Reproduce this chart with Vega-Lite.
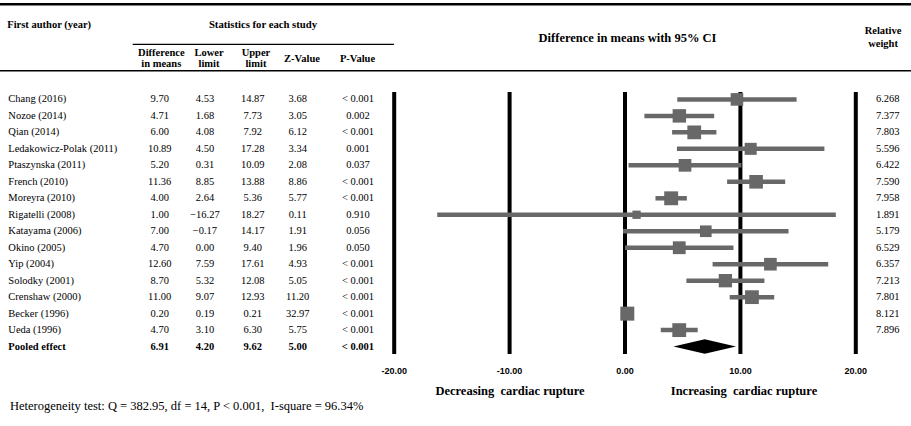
{
  "$schema": "https://vega.github.io/schema/vega-lite/v6.json",
  "width": 911,
  "height": 426,
  "autosize": {"type": "none"},
  "padding": 0,
  "background": "white",
  "config": {
    "view": {"stroke": null},
    "axis": {"disable": true},
    "legend": {"disable": true},
    "text": {"font": "Liberation Serif", "fontSize": 10.5, "color": "black", "baseline": "middle"}
  },
  "datasets": {
    "studies": [
      {"row": 1, "study": "Chang (2016)", "diff": 9.70, "lower": 4.53, "upper": 14.87, "z": 3.68, "p": "< 0.001", "weight": 6.268, "pooled": false},
      {"row": 2, "study": "Nozoe (2014)", "diff": 4.71, "lower": 1.68, "upper": 7.73, "z": 3.05, "p": "0.002", "weight": 7.377, "pooled": false},
      {"row": 3, "study": "Qian (2014)", "diff": 6.00, "lower": 4.08, "upper": 7.92, "z": 6.12, "p": "< 0.001", "weight": 7.803, "pooled": false},
      {"row": 4, "study": "Ledakowicz-Polak (2011)", "diff": 10.89, "lower": 4.50, "upper": 17.28, "z": 3.34, "p": "0.001", "weight": 5.596, "pooled": false},
      {"row": 5, "study": "Ptaszynska (2011)", "diff": 5.20, "lower": 0.31, "upper": 10.09, "z": 2.08, "p": "0.037", "weight": 6.422, "pooled": false},
      {"row": 6, "study": "French (2010)", "diff": 11.36, "lower": 8.85, "upper": 13.88, "z": 8.86, "p": "< 0.001", "weight": 7.590, "pooled": false},
      {"row": 7, "study": "Moreyra (2010)", "diff": 4.00, "lower": 2.64, "upper": 5.36, "z": 5.77, "p": "< 0.001", "weight": 7.958, "pooled": false},
      {"row": 8, "study": "Rigatelli (2008)", "diff": 1.00, "lower": -16.27, "upper": 18.27, "z": 0.11, "p": "0.910", "weight": 1.891, "pooled": false},
      {"row": 9, "study": "Katayama (2006)", "diff": 7.00, "lower": -0.17, "upper": 14.17, "z": 1.91, "p": "0.056", "weight": 5.179, "pooled": false},
      {"row": 10, "study": "Okino (2005)", "diff": 4.70, "lower": 0.00, "upper": 9.40, "z": 1.96, "p": "0.050", "weight": 6.529, "pooled": false},
      {"row": 11, "study": "Yip (2004)", "diff": 12.60, "lower": 7.59, "upper": 17.61, "z": 4.93, "p": "< 0.001", "weight": 6.357, "pooled": false},
      {"row": 12, "study": "Solodky (2001)", "diff": 8.70, "lower": 5.32, "upper": 12.08, "z": 5.05, "p": "< 0.001", "weight": 7.213, "pooled": false},
      {"row": 13, "study": "Crenshaw (2000)", "diff": 11.00, "lower": 9.07, "upper": 12.93, "z": 11.20, "p": "< 0.001", "weight": 7.801, "pooled": false},
      {"row": 14, "study": "Becker (1996)", "diff": 0.20, "lower": 0.19, "upper": 0.21, "z": 32.97, "p": "< 0.001", "weight": 8.121, "pooled": false},
      {"row": 15, "study": "Ueda (1996)", "diff": 4.70, "lower": 3.10, "upper": 6.30, "z": 5.75, "p": "< 0.001", "weight": 7.896, "pooled": false},
      {"row": 16, "study": "Pooled effect", "diff": 6.91, "lower": 4.20, "upper": 9.62, "z": 5.00, "p": "< 0.001", "weight": null, "pooled": true}
    ],
    "ticks": [
      {"tick": -20, "label": "-20.00"},
      {"tick": -10, "label": "-10.00"},
      {"tick": 0, "label": "0.00"},
      {"tick": 10, "label": "10.00"},
      {"tick": 20, "label": "20.00"}
    ],
    "one": [{}]
  },
  "layer": [
    {
      "data": {"name": "one"},
      "mark": {"type": "rule", "color": "black", "strokeWidth": 2.5},
      "encoding": {
        "x": {"datum": -54.159, "scale": {"type": "linear", "domain": [-54.159, 24.783], "nice": false, "zero": false}},
        "x2": {"datum": 24.783},
        "y": {"datum": -4.771, "scale": {"type": "linear", "domain": [-5.032, 20.818], "reverse": true, "nice": false, "zero": false}}
      }
    },
    {
      "data": {"name": "one"},
      "mark": {"type": "rule", "color": "black", "strokeWidth": 1.5},
      "encoding": {"x": {"datum": -54.159}, "x2": {"datum": 24.783}, "y": {"datum": -0.742}}
    },
    {
      "data": {"name": "one"},
      "mark": {"type": "rule", "color": "black", "strokeWidth": 1.2},
      "encoding": {"x": {"datum": -42.66}, "x2": {"datum": -20.02}, "y": {"datum": -2.343}}
    },
    {
      "data": {"name": "ticks"},
      "mark": {"type": "rule", "color": "black", "strokeWidth": 4},
      "encoding": {"x": {"field": "tick", "type": "quantitative"}, "y": {"datum": 0.551}, "y2": {"datum": 16.449}}
    },
    {
      "data": {"name": "ticks"},
      "mark": {"type": "text", "font": "Liberation Sans", "fontWeight": "bold", "fontSize": 9, "align": "center"},
      "encoding": {"x": {"field": "tick", "type": "quantitative"}, "y": {"datum": 17.481}, "text": {"field": "label"}}
    },
    {
      "data": {"name": "studies"},
      "transform": [{"filter": "!datum.pooled"}],
      "mark": {"type": "rule", "color": "#686868", "strokeWidth": 4.5},
      "encoding": {"x": {"field": "lower", "type": "quantitative"}, "x2": {"field": "upper"}, "y": {"field": "row", "type": "quantitative"}}
    },
    {
      "data": {"name": "studies"},
      "transform": [{"filter": "!datum.pooled"}],
      "mark": {"type": "point", "shape": "square", "filled": true, "opacity": 1, "color": "#686868"},
      "encoding": {
        "x": {"field": "diff", "type": "quantitative"},
        "y": {"field": "row", "type": "quantitative"},
        "size": {"field": "weight", "type": "quantitative", "scale": {"domain": [1.891, 8.121], "range": [69, 196], "zero": false}, "legend": null}
      }
    },
    {
      "data": {"name": "studies"},
      "transform": [{"filter": "datum.pooled"}],
      "mark": {"type": "point", "shape": "M-1,0L0,-0.232L1,0L0,0.232Z", "size": 3906, "filled": true, "opacity": 1, "color": "black"},
      "encoding": {"x": {"field": "diff", "type": "quantitative"}, "y": {"field": "row", "type": "quantitative"}}
    },
    {
      "data": {"name": "studies"},
      "transform": [{"filter": "!datum.pooled"}],
      "mark": {"type": "text", "align": "left"},
      "encoding": {"x": {"datum": -53.44}, "y": {"field": "row", "type": "quantitative"}, "text": {"field": "study"}}
    },
    {
      "data": {"name": "studies"},
      "transform": [{"filter": "!datum.pooled"}],
      "mark": {"type": "text", "align": "center"},
      "encoding": {"x": {"datum": -40.32}, "y": {"field": "row", "type": "quantitative"}, "text": {"field": "diff", "format": ".2f"}}
    },
    {
      "data": {"name": "studies"},
      "transform": [{"filter": "!datum.pooled"}],
      "mark": {"type": "text", "align": "center"},
      "encoding": {"x": {"datum": -36.4}, "y": {"field": "row", "type": "quantitative"}, "text": {"field": "lower", "format": ".2f"}}
    },
    {
      "data": {"name": "studies"},
      "transform": [{"filter": "!datum.pooled"}],
      "mark": {"type": "text", "align": "center"},
      "encoding": {"x": {"datum": -32.26}, "y": {"field": "row", "type": "quantitative"}, "text": {"field": "upper", "format": ".2f"}}
    },
    {
      "data": {"name": "studies"},
      "transform": [{"filter": "!datum.pooled"}],
      "mark": {"type": "text", "align": "center"},
      "encoding": {"x": {"datum": -28.36}, "y": {"field": "row", "type": "quantitative"}, "text": {"field": "z", "format": ".2f"}}
    },
    {
      "data": {"name": "studies"},
      "transform": [{"filter": "!datum.pooled"}],
      "mark": {"type": "text", "align": "center"},
      "encoding": {"x": {"datum": -23.14}, "y": {"field": "row", "type": "quantitative"}, "text": {"field": "p"}}
    },
    {
      "data": {"name": "studies"},
      "transform": [{"filter": "datum.pooled"}],
      "mark": {"type": "text", "align": "left", "fontWeight": "bold"},
      "encoding": {"x": {"datum": -53.44}, "y": {"field": "row", "type": "quantitative"}, "text": {"field": "study"}}
    },
    {
      "data": {"name": "studies"},
      "transform": [{"filter": "datum.pooled"}],
      "mark": {"type": "text", "align": "center", "fontWeight": "bold"},
      "encoding": {"x": {"datum": -40.32}, "y": {"field": "row", "type": "quantitative"}, "text": {"field": "diff", "format": ".2f"}}
    },
    {
      "data": {"name": "studies"},
      "transform": [{"filter": "datum.pooled"}],
      "mark": {"type": "text", "align": "center", "fontWeight": "bold"},
      "encoding": {"x": {"datum": -36.4}, "y": {"field": "row", "type": "quantitative"}, "text": {"field": "lower", "format": ".2f"}}
    },
    {
      "data": {"name": "studies"},
      "transform": [{"filter": "datum.pooled"}],
      "mark": {"type": "text", "align": "center", "fontWeight": "bold"},
      "encoding": {"x": {"datum": -32.26}, "y": {"field": "row", "type": "quantitative"}, "text": {"field": "upper", "format": ".2f"}}
    },
    {
      "data": {"name": "studies"},
      "transform": [{"filter": "datum.pooled"}],
      "mark": {"type": "text", "align": "center", "fontWeight": "bold"},
      "encoding": {"x": {"datum": -28.36}, "y": {"field": "row", "type": "quantitative"}, "text": {"field": "z", "format": ".2f"}}
    },
    {
      "data": {"name": "studies"},
      "transform": [{"filter": "datum.pooled"}],
      "mark": {"type": "text", "align": "center", "fontWeight": "bold"},
      "encoding": {"x": {"datum": -23.14}, "y": {"field": "row", "type": "quantitative"}, "text": {"field": "p"}}
    },
    {
      "data": {"name": "studies"},
      "transform": [{"filter": "!datum.pooled"}],
      "mark": {"type": "text", "align": "left"},
      "encoding": {"x": {"datum": 21.75}, "y": {"field": "row", "type": "quantitative"}, "text": {"field": "weight", "format": ".3f"}}
    },
    {
      "data": {"name": "one"},
      "mark": {"type": "text", "align": "left", "fontWeight": "bold", "text": "First author (year)"},
      "encoding": {"x": {"datum": -53.53}, "y": {"datum": -3.515}}
    },
    {
      "data": {"name": "one"},
      "mark": {"type": "text", "align": "center", "fontWeight": "bold", "fontSize": 10.7, "text": "Statistics for each study"},
      "encoding": {"x": {"datum": -31.37}, "y": {"datum": -3.515}}
    },
    {
      "data": {"name": "one"},
      "mark": {"type": "text", "align": "center", "fontWeight": "bold", "lineHeight": 11, "text": ["Difference", "in means"]},
      "encoding": {"x": {"datum": -40.18}, "y": {"datum": -1.834}}
    },
    {
      "data": {"name": "one"},
      "mark": {"type": "text", "align": "center", "fontWeight": "bold", "lineHeight": 11, "text": ["Lower", "limit"]},
      "encoding": {"x": {"datum": -36.05}, "y": {"datum": -1.834}}
    },
    {
      "data": {"name": "one"},
      "mark": {"type": "text", "align": "center", "fontWeight": "bold", "lineHeight": 11, "text": ["Upper", "limit"]},
      "encoding": {"x": {"datum": -31.98}, "y": {"datum": -1.834}}
    },
    {
      "data": {"name": "one"},
      "mark": {"type": "text", "align": "center", "fontWeight": "bold", "text": "Z-Value"},
      "encoding": {"x": {"datum": -27.99}, "y": {"datum": -1.48}}
    },
    {
      "data": {"name": "one"},
      "mark": {"type": "text", "align": "center", "fontWeight": "bold", "text": "P-Value"},
      "encoding": {"x": {"datum": -23.18}, "y": {"datum": -1.48}}
    },
    {
      "data": {"name": "one"},
      "mark": {"type": "text", "align": "center", "fontWeight": "bold", "fontSize": 12.5, "text": "Difference in means with 95% CI"},
      "encoding": {"x": {"datum": 0.217}, "y": {"datum": -2.744}}
    },
    {
      "data": {"name": "one"},
      "mark": {"type": "text", "align": "center", "fontWeight": "bold", "lineHeight": 13, "text": ["Relative", "weight"]},
      "encoding": {"x": {"datum": 22.36}, "y": {"datum": -3.15}}
    },
    {
      "data": {"name": "one"},
      "mark": {"type": "text", "align": "center", "fontWeight": "bold", "fontSize": 12.5, "text": "Decreasing\u00a0 cardiac rupture"},
      "encoding": {"x": {"datum": -9.965}, "y": {"datum": 18.694}}
    },
    {
      "data": {"name": "one"},
      "mark": {"type": "text", "align": "center", "fontWeight": "bold", "fontSize": 12.5, "text": "Increasing\u00a0 cardiac rupture"},
      "encoding": {"x": {"datum": 10.31}, "y": {"datum": 18.694}}
    },
    {
      "data": {"name": "one"},
      "mark": {"type": "text", "align": "left", "fontSize": 12.5, "text": "Heterogeneity test: Q = 382.95, df = 14, P < 0.001,\u00a0 I-square = 96.34%"},
      "encoding": {"x": {"datum": -53.29}, "y": {"datum": 19.604}}
    }
  ]
}
